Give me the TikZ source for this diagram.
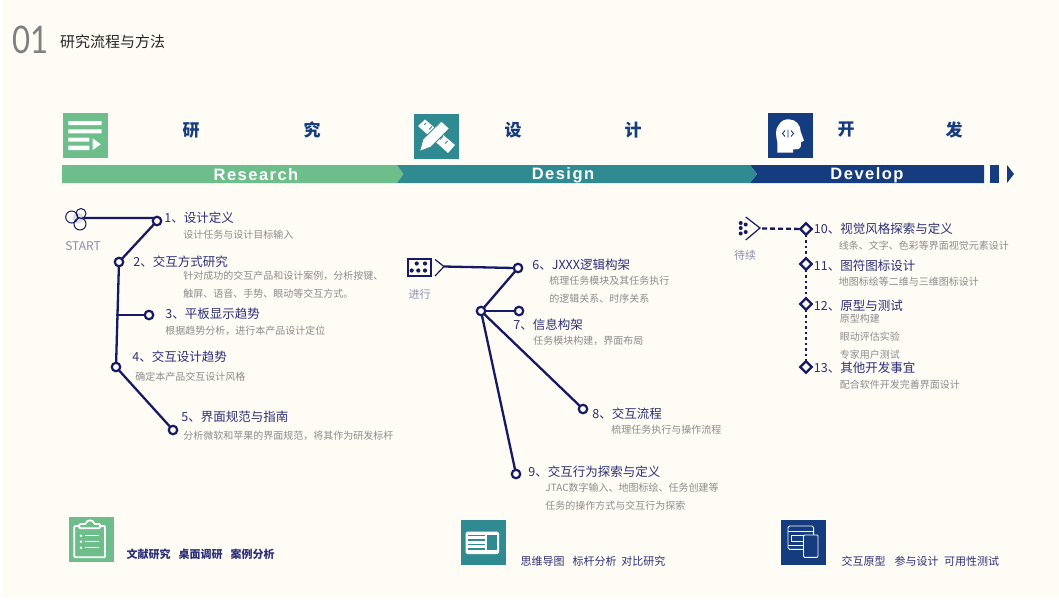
\documentclass[tikz,border=0pt]{standalone}
\usepackage{fontspec}
\usepackage{tikz}
\usetikzlibrary{shapes,positioning}
\setmainfont{Noto Sans CJK SC}
\newfontfamily\barfont{Liberation Sans}
\newfontfamily\numfont{Lato}
\definecolor{paper}{HTML}{FFFCF5}
\definecolor{rgreen}{HTML}{6DBE8B}
\definecolor{dteal}{HTML}{2F8B91}
\definecolor{dnavy}{HTML}{153C7E}
\definecolor{ink}{HTML}{141A66}
\definecolor{headink}{HTML}{2B2F78}
\definecolor{subink}{HTML}{8C8C8C}
\definecolor{tagink}{HTML}{8A8DB3}
\begin{document}
\begin{tikzpicture}[x=1pt, y=-1pt, node distance=3pt]
    \tikzstyle{dot} = [circle, draw=ink, fill=paper, line width=2.2pt, minimum size=8.5pt, inner sep=0pt, outer sep=0pt]
    \tikzstyle{gem} = [diamond, draw=ink, fill=paper, line width=2.3pt, minimum size=11.5pt, inner sep=0pt, outer sep=0pt]
    \tikzstyle{wire} = [draw=ink, line width=2.3pt]
    \tikzstyle{dashwire} = [draw=ink, line width=2.3pt, dash pattern=on 5pt off 3pt]
    \tikzstyle{dotwire} = [draw=ink, line width=2.3pt, dash pattern=on 2.5pt off 3pt]
    \tikzstyle{head} = [anchor=west, inner sep=0pt, text=headink, font=\fontsize{12.5}{14}\selectfont]
    \tikzstyle{sub} = [inner sep=0pt, text=subink, align=left, font=\fontsize{10}{18}\selectfont]
    \tikzstyle{tag} = [inner sep=0pt, text=tagink, font=\fontsize{11}{13}\selectfont]
    \tikzstyle{capch} = [inner sep=0pt, text=dnavy, font=\fontsize{17}{19}\selectfont\bfseries]
    \tikzstyle{bartext} = [inner sep=0pt, text=white, font=\fontsize{16.5}{18}\barfont\bfseries\addfontfeature{LetterSpace=9}]
    \tikzstyle{tool} = [anchor=west, inner sep=0pt, text=headink, font=\fontsize{11}{13}\selectfont]
    \tikzstyle{iconbox} = [inner sep=0pt, outer sep=0pt, minimum size=45pt]

    \useasboundingbox (0,0) rectangle (1059,600);
    \fill [white] (0,0) rectangle (1059,600);
    \fill [paper] (3,0) rectangle (1059,598);

    \node [anchor=west, inner sep=0pt, xscale=0.82, text=black!50, font=\fontsize{38}{40}\numfont] (num) at (12,40) {01};
    \node [anchor=west, inner sep=0pt, text=black!85, font=\fontsize{15}{17}\selectfont] (title) at (60,42) {研究流程与方法};

    \node [iconbox, fill=rgreen] (resbox) at (85.5,135.5) {};
    \node [iconbox, fill=dteal] (desbox) at (436.5,136.5) {};
    \node [iconbox, fill=dnavy] (devbox) at (790.5,135.5) {};

    \fill [white] (68.3,121) rectangle (101.7,125) (68.3,129.3) rectangle (101.7,133.3)
        (68.3,137.7) rectangle (89.3,141.7) (68.3,145.7) rectangle (89.3,150)
        (92.7,138.3) -- (100.7,144.3) -- (92.7,150) -- cycle;

    \fill [white] (418,126) -- (425,119.5) -- (455,145) -- (448,153) -- cycle;
    \draw [dteal, line width=0.8pt] (424,125) -- (426,123) (429,129.5) -- (432,126.5) (434,134) -- (436,132)
        (440,139.5) -- (443,136.5) (445,143.5) -- (447.5,141);
    \filldraw [white, draw=dteal, line width=0.9pt, line join=round] (419.5,151.5) -- (423,139) -- (441.5,121) -- (449.5,128.5) -- (431,147) -- cycle;

    \fill [white] (777.3,152.7) -- (777.3,142) .. controls (776,136) and (775,130) .. (778,126)
        .. controls (781,120) and (786,119) .. (789,119.3)
        .. controls (796,119.5) and (800.5,125) .. (800.7,131.7)
        -- (804,140.7) -- (801,142.3) -- (800.7,147) .. controls (800.5,149) and (798,149.3) .. (793,149.3)
        -- (793,152.7) -- cycle;
    \draw [dnavy, line width=0.9pt] (785,130.5) -- (782.5,133.5) -- (785,136.5) (788,129.5) -- (788,137.5)
        (791,130.5) -- (793.5,133.5) -- (791,136.5);

    \node [capch] (c1) at (191,130) {研};
    \node [capch] (c2) at (312,130) {究};
    \node [capch] (c3) at (513,130) {设};
    \node [capch] (c4) at (633,130) {计};
    \node [capch] (c5) at (846,130) {开};
    \node [capch] (c6) at (954,130) {发};

    \fill [dnavy] (750,165) -- (757,174) -- (750,183) -- (984,183) -- (984,165) -- cycle;
    \fill [dnavy] (990,165) rectangle (998.5,183);
    \fill [dnavy] (1007,165) -- (1014,174) -- (1007,183) -- cycle;
    \fill [dteal] (397,165) -- (750,165) -- (757,174) -- (750,183) -- (397,183) -- cycle;
    \fill [rgreen] (62,165) -- (397,165) -- (403.5,174) -- (397,183) -- (62,183) -- cycle;
    \node [bartext] (resbar) at (256,174.5) {Research};
    \node [bartext] (desbar) at (563,175) {Design};
    \node [bartext] (devbar) at (867,175) {Develop};

    \node [circle, fill=black!12, minimum size=11pt, inner sep=0pt, outer sep=0pt] (start) at (78,218) {};
    \draw [ink, line width=1pt] (71.7,217) circle (6) (81,213.5) circle (5) (80,224) circle (6);
    \node [tag, font=\fontsize{12}{14}\selectfont, below=18pt of start, xshift=5pt] (startlab) {START};
    \node [dot] (d1) at (157,221) {};
    \node [dot] (d2) at (119,262) {};
    \node [dot] (d3) at (149,315) {};
    \node [dot] (d4) at (116,367) {};
    \node [dot] (d5) at (173,430) {};
    \coordinate (j3) at (115.5,315);
    \path [wire] (start.east) -- (d1.north west);
    \path [wire] (d1) -- (d2);
    \path [wire] (d2) -- (d4);
    \path [wire] (j3) -- (d3);
    \path [wire] (d4) -- (d5);

    \node [head, right=3pt of d1, yshift=3pt] (h1) {1、设计定义};
    \node [head, right=10pt of d2] (h2) {2、交互方式研究};
    \node [head, right=12pt of d3, yshift=1pt] (h3) {3、平板显示趋势};
    \node [head, right=12pt of d4, yshift=10pt] (h4) {4、交互设计趋势};
    \node [head, right=4pt of d5, yshift=13pt] (h5) {5、界面规范与指南};
    \node [sub, below right=6pt and 19pt of h1.south west] (s1) {设计任务与设计目标输入};
    \node [sub, below right=3pt and 50pt of h2.south west] (s2) {针对成功的交互产品和设计案例，分析按键、\\触屏、语音、手势、眼动等交互方式。};
    \node [sub, below right=6pt and 0pt of h3.south west] (s3) {根据趋势分析，进行本产品设计定位};
    \node [sub, below right=9pt and 3pt of h4.south west] (s4) {确定本产品交互设计风格};
    \node [sub, below right=8pt and 2pt of h5.south west] (s5) {分析微软和苹果的界面规范，将其作为研发标杆};

    \node [rectangle, draw=ink, fill=paper, line width=1.4pt, minimum width=23pt, minimum height=17pt, inner sep=0pt] (runbox) at (419.5,267.5) {};
    \fill [ink] (416.7,263.5) circle (2.1) (425,263.5) circle (2.1) (411.7,270.5) circle (2.1) (418.3,270.5) circle (2.1) (425,270.5) circle (2.1);
    \coordinate (runtip) at (444,266.5);
    \draw [ink, line width=1.2pt] (435,259.5) -- (runtip) -- (435,276);
    \node [tag, below=12pt of runbox] (runlab) {进行};
    \node [dot] (d6) at (518,268) {};
    \node [dot] (hub) at (481,311) {};
    \node [dot] (d7) at (519,311) {};
    \node [dot] (d8) at (583,409) {};
    \node [dot] (d9) at (516,474) {};
    \path [wire] (runtip) -- (d6.west);
    \path [wire] (d6) -- (hub);
    \path [wire] (hub) -- (d7);
    \path [wire] (hub) -- (d8);
    \path [wire] (hub) -- (d9);

    \node [head, right=10pt of d6, yshift=3pt] (h6) {6、JXXX逻辑构架};
    \node [head, right=-10pt of d7, yshift=-14pt] (h7) {7、信息构架};
    \node [head, right=5pt of d8, yshift=-5pt] (h8) {8、交互流程};
    \node [head, right=8pt of d9, yshift=2pt] (h9) {9、交互行为探索与定义};
    \node [sub, below right=5pt and 17pt of h6.south west] (s6) {梳理任务模块及其任务执行\\的逻辑关系、时序关系};
    \node [sub, below right=5pt and 20pt of h7.south west] (s7) {任务模块构建，界面布局};
    \node [sub, below right=5pt and 19pt of h8.south west] (s8) {梳理任务执行与操作流程};
    \node [sub, below right=5pt and 17pt of h9.south west] (s9) {JTAC数字输入、地图标绘、任务创建等\\任务的操作方式与交互行为探索};

    \fill [ink] (740.7,223) circle (2) (740.7,228) circle (2) (740.7,233.5) circle (2) (745.7,224.5) circle (2) (745.7,232) circle (2);
    \coordinate (todotip) at (760,228);
    \draw [ink, line width=1.2pt] (745.7,217) -- (todotip) -- (745.7,240);
    \node [tag] (todolab) at (745,255) {待续};
    \node [gem] (d10) at (806,229) {};
    \node [gem] (d11) at (806,264) {};
    \node [gem] (d12) at (806,304) {};
    \node [gem] (d13) at (806,367) {};
    \path [dashwire] (todotip) ++(2,0.5) -- (d10);
    \path [dotwire] (d10) -- (d11);
    \path [dotwire] (d11) -- (d12);
    \path [dotwire] (d12) -- (d13);

    \node [head, right=2pt of d10] (h10) {10、视觉风格探索与定义};
    \node [head, right=2pt of d11, yshift=-2pt] (h11) {11、图符图标设计};
    \node [head, right=2pt of d12, yshift=-2pt] (h12) {12、原型与测试};
    \node [head, right=2pt of d13, yshift=-1pt] (h13) {13、其他开发事宜};
    \node [sub, below right=6pt and 25pt of h10.south west] (s10) {线条、文字、色彩等界面视觉元素设计};
    \node [sub, below right=5pt and 25pt of h11.south west] (s11) {地图标绘等二维与三维图标设计};
    \node [sub, below right=2pt and 26pt of h12.south west] (s12) {原型构建\\眼动评估实验\\专家用户测试};
    \node [sub, below right=6pt and 26pt of h13.south west] (s13) {配合软件开发完善界面设计};

    \node [iconbox, fill=rgreen] (litbox) at (91,539.5) {};
    \node [iconbox, fill=dteal] (mapbox) at (483,542) {};
    \node [iconbox, fill=dnavy] (probox) at (803,542) {};

    \draw [white, line width=1.8pt, rounded corners=1pt] (79.3,526) -- (74.3,526) -- (74.3,557.3) -- (105,557.3) -- (105,526) -- (100,526);
    \draw [white, line width=1.8pt, rounded corners=1pt] (79.3,528.3) -- (79.3,524) -- (86,524) .. controls (86.5,519.5) and (93.5,519.5) .. (94,524) -- (100,524) -- (100,528.3) -- cycle;
    \fill [white] (81,535.7) circle (1.4) (81,541.7) circle (1.4) (81,547.7) circle (1.4);
    \draw [white, line width=1.4pt] (85,535.7) -- (99.3,535.7) (85,541.7) -- (99.3,541.7) (85,547.7) -- (99.3,547.7);

    \fill [white, rounded corners=1.5pt] (465.6,531.7) rectangle (499,554);
    \draw [dteal, line width=1.5pt] (468,535.7) -- (484.5,535.7) (468,540) -- (484.5,540) (468,544.3) -- (484.5,544.3) (468,549) -- (484.5,549);
    \fill [dteal] (487,535) rectangle (496.5,550);

    \draw [white, line width=0.9pt, rounded corners=1.5pt] (788,526) rectangle (813.6,549.3);
    \draw [white, line width=0.9pt] (788,531) -- (813.6,531) (791.8,535.7) rectangle (803.5,541.7) (788,545) -- (803.5,545);
    \filldraw [fill=dnavy, draw=white, line width=0.9pt, rounded corners=1pt] (803.5,535) rectangle (818,557.3);

    \node [tool, font=\fontsize{11}{13}\selectfont\bfseries, right=13pt of litbox, yshift=-14.5pt] (lit) {文献研究\hspace{8pt}桌面调研\hspace{8pt}案例分析};
    \node [tool, right=15pt of mapbox, yshift=-19pt] (map) {思维导图\hspace{8pt}标杆分析\hspace{4.7pt}对比研究};
    \node [tool, right=16pt of probox, yshift=-19pt] (pro) {交互原型\hspace{9pt}参与设计\hspace{5.5pt}可用性测试};
\end{tikzpicture}
\end{document}
